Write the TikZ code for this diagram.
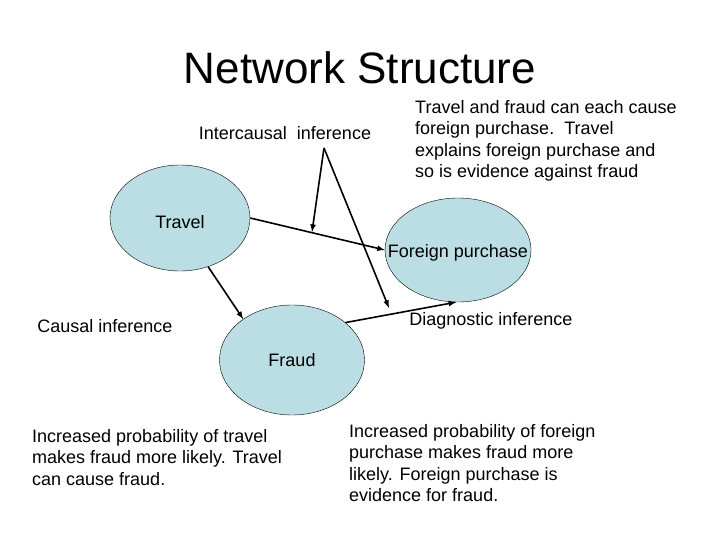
\documentclass[tikz,border=0pt]{standalone}
\usepackage{fontspec}
\setmainfont{Liberation Sans}
\usetikzlibrary{shapes.geometric}
\definecolor{nodeblue}{RGB}{186,222,228}
\begin{document}
\begin{tikzpicture}[x=1pt, y=-1pt, every node/.style={font=\fontsize{18}{21.5}\selectfont},
    var/.style={ellipse, draw, thin, fill=nodeblue, inner sep=0pt},
    arr/.style={draw, line width=1.6pt, -latex},
    note/.style={align=left, anchor=north west, inner sep=0pt}]
      \useasboundingbox (0,0) rectangle (720,540);
      \node at (360,68) {\fontsize{44}{52}\selectfont Network Structure};
      \node (T) at (180,218) [var, minimum width=140, minimum height=106] {};
      \node at (180,222) {Travel};
      \node (F) at (458,250) [var, minimum width=146, minimum height=104] {};
      \node at (458,253) {Foreign purchase};
      \node (D) at (292,360) [var, minimum width=145, minimum height=110] {};
      \node at (292,360) {Fraud};
      \node (ic) at (285,133) {Intercausal\ \ inference};
      \node (ci) at (105,326) {Causal inference};
      \node (di) at (491,321) {Diagnostic inference};
      \node (tx1) at (415,100) [note] {Travel and fraud can each cause\\foreign purchase.\ \ Travel\\explains foreign purchase and\\so is evidence against fraud};
      \node (tx2) at (32,429) [note] {Increased probability of travel\\makes fraud more likely. Travel\\can cause fraud.};
      \node (tx3) at (349,424) [note] {Increased probability of foreign\\purchase makes fraud more\\likely. Foreign purchase is\\evidence for fraud.};
      \coordinate (tip) at (324,148);
      \coordinate (m1) at (312,232);
      \coordinate (m2) at (389,308);
      \path[arr] (T.east) -- (F.west);
      \path[arr] (T.300) -- (D.140);
      \path[arr] (D.35) -- (F.268);
      \path[arr] (tip) -- (m1);
      \path[arr] (tip) -- (m2);
    \end{tikzpicture}
\end{document}
